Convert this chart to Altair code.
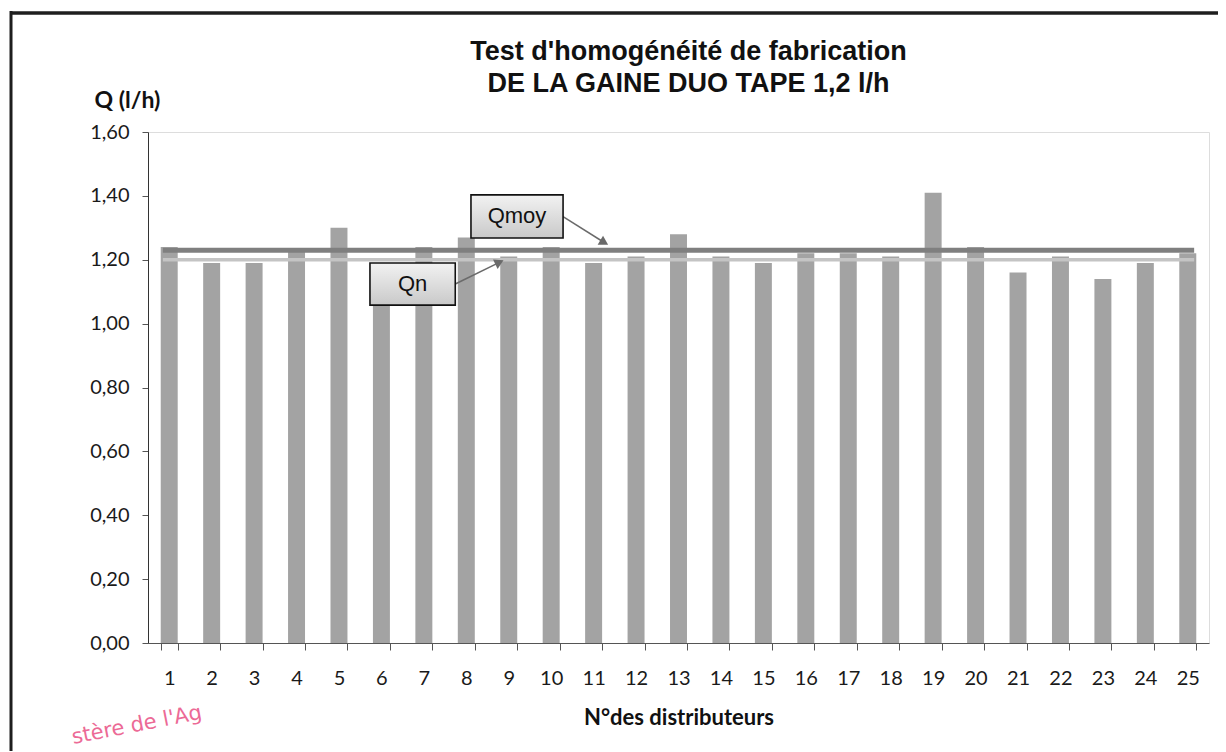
import altair as alt
import pandas as pd

# ---------------- data ----------------
categories = list(range(1, 26))
debits = [1.24, 1.19, 1.19, 1.23, 1.30, 1.14, 1.24, 1.27, 1.21, 1.24,
          1.19, 1.21, 1.28, 1.21, 1.19, 1.22, 1.22, 1.21, 1.41, 1.24,
          1.16, 1.21, 1.14, 1.19, 1.22]
ref_names = ["Qmoy", "Qn"]
ref_values = [1.23, 1.20]
y_ticks = [0.0, 0.2, 0.4, 0.6, 0.8, 1.0, 1.2, 1.4, 1.6]

title_lines = ["Test d'homogénéité de fabrication", "DE LA GAINE DUO TAPE 1,2 l/h"]
y_title = "Q (l/h)"
x_title = "N°des distributeurs"
stamp_text = "stère de l'Ag"

# ---------------- layout / style ----------------
W, H = 1061, 511
YDOM = [0, 1.6]
BAR = "#a3a3a3"
FONT_T = "Liberation Sans"
FONT_A = "Lato"

df = pd.DataFrame({"n": categories, "q": debits})

xq = alt.Scale(domain=[0.5, len(categories) + 0.5], nice=False, zero=False)
yq = alt.Scale(domain=YDOM, nice=False, zero=True)

bars = alt.Chart(df).mark_bar(color=BAR).encode(
    x=alt.X("n:O",
            scale=alt.Scale(paddingInner=0.6, paddingOuter=0.3),
            axis=alt.Axis(title=x_title, labelAngle=0, tickBand="extent",
                          labelFont=FONT_A, labelFontSize=20, labelColor="#1a1a1a",
                          labelPadding=18, tickSize=7, tickColor="#555",
                          domainColor="#555", titleFont=FONT_A, titleFontSize=22,
                          titleFontWeight="bold", titleColor="#111", titlePadding=19,
                          grid=False)),
    y=alt.Y("q:Q", scale=yq,
            axis=alt.Axis(title=y_title, values=y_ticks, grid=False,
                          labelExpr="replace(format(datum.value, '.2f'), '.', ',')",
                          labelFont=FONT_A, labelFontSize=20, labelColor="#1a1a1a",
                          labelPadding=13, tickSize=6, tickColor="#555",
                          domainColor="#333", titleAngle=0, titleAlign="center",
                          titleBaseline="middle", titleX=-21, titleY=-32,
                          titleFont=FONT_A, titleFontSize=23, titleFontWeight="bold",
                          titleColor="#111")),
)

# reference lines Qmoy / Qn
lines_df = pd.DataFrame({"name": ref_names, "y": ref_values,
                         "x1": [categories[0] - 0.15] * 2,
                         "x2": [categories[-1] + 0.15] * 2})
qmoy_line = alt.Chart(lines_df[lines_df.name == "Qmoy"]).mark_rule(
    color="#7f7f7f", strokeWidth=5).encode(
    x=alt.X("x1:Q", scale=xq, axis=None), x2="x2:Q",
    y=alt.Y("y:Q", scale=yq))
qn_line = alt.Chart(lines_df[lines_df.name == "Qn"]).mark_rule(
    color="#c4c4c4", strokeWidth=3.5).encode(
    x=alt.X("x1:Q", scale=xq, axis=None), x2="x2:Q",
    y=alt.Y("y:Q", scale=yq))

# annotation boxes (label boxes placed as in the picture)
box_df = pd.DataFrame({
    "label": ref_names,
    "x1": [8.11, 5.73], "x2": [10.28, 7.74],
    "y1": [1.403, 1.190], "y2": [1.268, 1.058],
})
box_df["xm"] = (box_df.x1 + box_df.x2) / 2
box_df["ym"] = (box_df.y1 + box_df.y2) / 2

grad = alt.Gradient(gradient="linear", x1=0, y1=0, x2=0, y2=1,
                    stops=[alt.GradientStop(color="#f2f2f2", offset=0),
                           alt.GradientStop(color="#c9c9c9", offset=1)])
boxes = alt.Chart(box_df).mark_rect(color=grad, stroke="#111", strokeWidth=1.6).encode(
    x=alt.X("x1:Q", scale=xq, axis=None), x2="x2:Q",
    y=alt.Y("y1:Q", scale=yq), y2="y2:Q")
box_text = alt.Chart(box_df).mark_text(font=FONT_T, fontSize=22, color="#111",
                                       align="center", baseline="middle").encode(
    x=alt.X("xm:Q", scale=xq, axis=None),
    y=alt.Y("ym:Q", scale=yq),
    text="label:N")

# arrows from boxes to lines
arrow_df = pd.DataFrame({
    "x1": [10.28, 7.74], "y1": [1.335, 1.124],
    "x2": [11.25, 8.78], "y2": [1.254, 1.192],
    "ang": [121, 64],
})
arrow_lines = alt.Chart(arrow_df).mark_rule(color="#6a6a6a", strokeWidth=1.5).encode(
    x=alt.X("x1:Q", scale=xq, axis=None), x2="x2:Q",
    y=alt.Y("y1:Q", scale=yq), y2="y2:Q")
arrow_heads = alt.Chart(arrow_df).mark_point(shape="triangle-up", filled=True,
                                             color="#6a6a6a", size=110, opacity=1).encode(
    x=alt.X("x2:Q", scale=xq, axis=None),
    y=alt.Y("y2:Q", scale=yq),
    angle=alt.Angle("ang:Q", scale=None))

# title (two lines) as text above the plot
one = pd.DataFrame({"a": [0]})
title1 = alt.Chart(one).mark_text(text=title_lines[0], font=FONT_T, fontSize=27,
                                  fontWeight="bold", color="#111", align="center",
                                  baseline="middle").encode(
    x=alt.value(W / 2 + 10), y=alt.value(-80))
title2 = alt.Chart(one).mark_text(text=title_lines[1], font=FONT_T, fontSize=27,
                                  fontWeight="bold", color="#111", align="center",
                                  baseline="middle").encode(
    x=alt.value(W / 2 + 10), y=alt.value(-48))

# scan frame and stamp fragment (decoration)
frame_top = alt.Chart(one).mark_rule(color="#1e1e1e", strokeWidth=3.5).encode(
    x=alt.value(-138), x2=alt.value(1075), y=alt.value(-119))
frame_left = alt.Chart(one).mark_rule(color="#1e1e1e", strokeWidth=3).encode(
    x=alt.value(-137), y=alt.value(-121), y2=alt.value(630))
stamp = alt.Chart(one).mark_text(text=stamp_text, font="DejaVu Sans", fontSize=21,
                                 color="#ec6a96", angle=349, align="left",
                                 baseline="middle").encode(
    x=alt.value(-76), y=alt.value(606))

chart = alt.layer(
    bars, qn_line, qmoy_line, arrow_lines, arrow_heads, boxes, box_text,
    title1, title2, frame_top, frame_left, stamp
).resolve_scale(x="independent").properties(
    width=W, height=H,
    autosize=alt.AutoSizeParams(type="none"),
    padding={"left": 140, "top": 124, "right": 9, "bottom": 108},
).configure_view(stroke="#8a8a8a", strokeWidth=1.2).configure(background="white")

chart.save("out.html", embed_options={"renderer": "svg", "actions": False})
